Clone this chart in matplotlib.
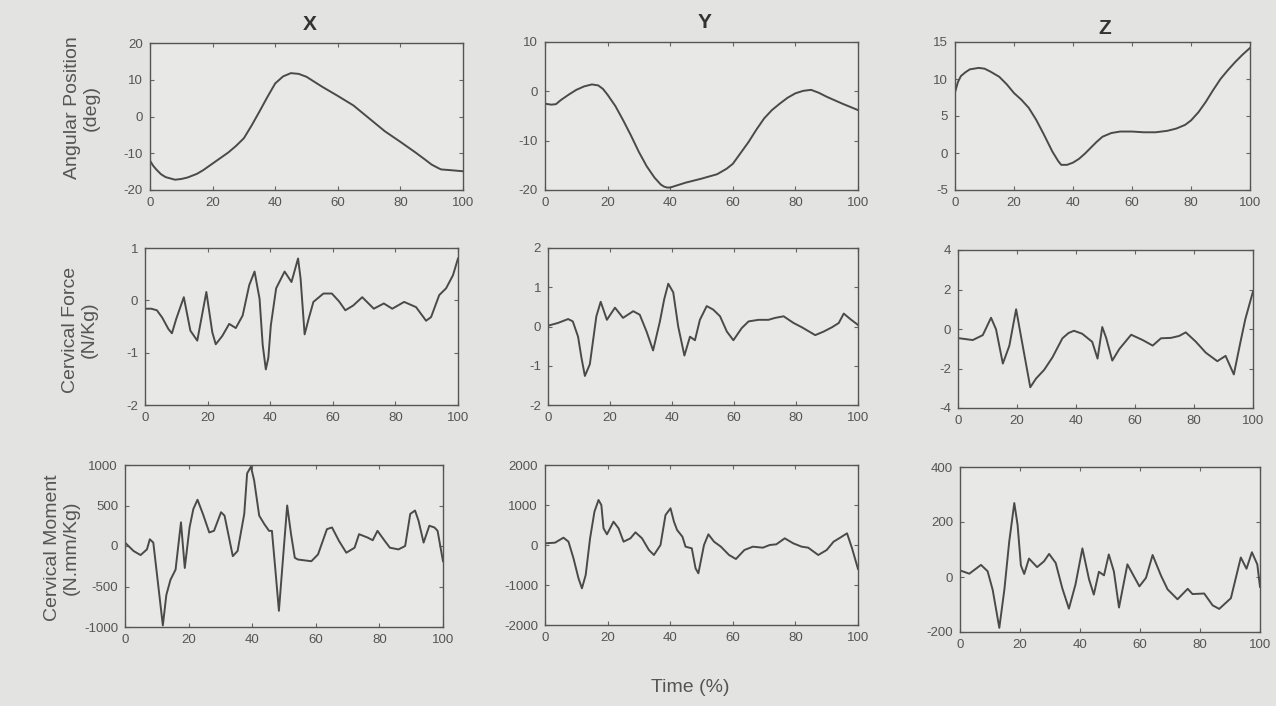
import matplotlib
matplotlib.use("Agg")
import matplotlib.pyplot as plt

plt.rcParams['font.family'] = ['Liberation Sans', 'DejaVu Sans']
plt.rcParams['axes.unicode_minus'] = False

# ---- angular position (deg) ----
ang_x_t = [0, 1, 2, 3.5, 5, 8, 10, 12, 15, 17, 20, 22.5, 25, 27.5, 30, 32.5, 35, 37.5, 40, 42.5, 45,
           47.5, 50, 55, 60, 65, 70, 75, 80, 85, 88, 90, 92, 93, 96, 100]
ang_x = [-12, -13.4, -14.4, -15.7, -16.5, -17.2, -17.0, -16.6, -15.6, -14.6, -12.8, -11.3, -9.8, -8.0,
         -5.9, -2.4, 1.4, 5.3, 9.0, 10.9, 11.8, 11.6, 10.8, 8.1, 5.6, 3.0, -0.5, -4, -6.9, -9.9, -11.8,
         -13.1, -14.0, -14.4, -14.6, -14.9]

ang_y_t = [0, 2, 3.5, 5, 7.5, 10, 12.5, 15, 17, 18.5, 20, 22.5, 25, 27.5, 30, 32.5, 35, 37, 38, 39, 40,
           42.5, 45, 50, 55, 58, 60, 62.5, 65, 67.5, 70, 72.5, 75, 77.5, 80, 82.5, 85, 87.5, 90, 95, 100]
ang_y = [-2.5, -2.7, -2.6, -1.8, -0.7, 0.3, 1.0, 1.4, 1.2, 0.5, -0.7, -3.0, -5.9, -9.0, -12.3, -15.2,
         -17.5, -18.9, -19.3, -19.5, -19.5, -19.0, -18.5, -17.7, -16.8, -15.7, -14.7, -12.5, -10.3,
         -7.8, -5.5, -3.8, -2.5, -1.3, -0.4, 0.1, 0.3, -0.3, -1.1, -2.5, -3.8]

ang_z_t = [0, 1, 2, 3.5, 5, 8, 10, 12, 15, 17.5, 20, 22.5, 25, 27.5, 30, 33, 35, 36, 38, 40, 42, 44, 46,
           48, 50, 53, 56, 60, 64, 68, 72, 75, 78, 80, 82.5, 85, 87.5, 90, 92.5, 95, 97.5, 100]
ang_z = [8.2, 9.6, 10.4, 10.9, 11.3, 11.5, 11.4, 11.0, 10.3, 9.3, 8.1, 7.2, 6.1, 4.5, 2.6, 0.2, -1.1,
         -1.6, -1.6, -1.3, -0.8, -0.1, 0.7, 1.5, 2.2, 2.7, 2.9, 2.9, 2.8, 2.8, 3.0, 3.3, 3.8, 4.4, 5.5,
         6.9, 8.5, 10.0, 11.2, 12.3, 13.3, 14.2]

# ---- cervical force (N/Kg) ----
frc_x_t = [0, 2, 3.8, 5.5, 7.5, 8.6, 10, 12.4, 14.5, 16.7, 19.6, 21.5, 22.6, 24.7, 26.9, 29, 31.2,
           33.3, 35, 36.6, 37.6, 38.6, 39.4, 40.2, 41.9, 44.6, 46.8, 48.9, 49.7, 51, 52.3, 53.8, 57,
           59.7, 62, 64, 66.5, 69.4, 73.1, 76.3, 79, 82.8, 86.6, 89.8, 91.4, 94, 96.2, 98.4, 100]
frc_x = [-0.16, -0.16, -0.19, -0.33, -0.55, -0.63, -0.35, 0.06, -0.58, -0.77, 0.16, -0.61, -0.84,
         -0.68, -0.45, -0.53, -0.29, 0.29, 0.55, 0.03, -0.85, -1.32, -1.1, -0.48, 0.23, 0.55, 0.35,
         0.8, 0.42, -0.65, -0.35, -0.03, 0.13, 0.13, -0.02, -0.19, -0.1, 0.06, -0.16, -0.06, -0.16,
         -0.03, -0.13, -0.39, -0.32, 0.1, 0.23, 0.48, 0.8]

frc_y_t = [0, 3.2, 6.5, 8, 9.7, 10.8, 11.9, 13.5, 15.6, 17, 19, 21.6, 24.2, 27.5, 29.6, 31.8, 33.9,
           36.1, 37.5, 38.8, 40.4, 42, 44, 45.8, 47.4, 49, 51.2, 53.3, 55.5, 57.7, 59.8, 62.5, 64.7,
           67.9, 71.1, 73.3, 76, 79.2, 81.9, 86.2, 88.9, 91.6, 93.8, 95.4, 97.5, 100]
frc_y = [0.02, 0.09, 0.19, 0.13, -0.26, -0.8, -1.26, -0.96, 0.26, 0.63, 0.17, 0.48, 0.22, 0.39, 0.3,
         -0.13, -0.61, 0.13, 0.7, 1.09, 0.87, 0.0, -0.74, -0.26, -0.35, 0.17, 0.52, 0.43, 0.26, -0.13,
         -0.35, -0.04, 0.13, 0.17, 0.17, 0.22, 0.26, 0.09, -0.02, -0.22, -0.13, -0.02, 0.09, 0.33,
         0.19, 0.04]

frc_z_t = [0, 5, 8.4, 11.2, 12.9, 15.2, 17.4, 19.7, 21.9, 24.5, 26.5, 29.2, 32, 35.4, 37.5, 39.3, 42.1,
           45.5, 47.3, 48.9, 50.2, 52.3, 54.7, 58.7, 62.6, 66, 68.8, 72.2, 75, 77.2, 80.6, 84, 87.9,
           90.7, 93.5, 95.8, 97.4, 100]
frc_z = [-0.46, -0.56, -0.31, 0.57, -0.02, -1.75, -0.85, 1.0, -0.82, -2.95, -2.5, -2.07, -1.44,
         -0.47, -0.2, -0.09, -0.24, -0.65, -1.5, 0.1, -0.44, -1.6, -1.01, -0.29, -0.56, -0.84, -0.47,
         -0.45, -0.35, -0.17, -0.64, -1.2, -1.63, -1.36, -2.3, -0.62, 0.5, 1.9]

# ---- cervical moment (N.mm/Kg) ----
mom_x_t = [0, 2.7, 4.9, 6.9, 7.8, 8.9, 10.2, 11.9, 13, 14.3, 15.9, 17.6, 18.8, 20.3, 21.5, 22.8, 24.5,
           26.5, 28, 30.2, 31.3, 33.9, 35.4, 37.5, 38.4, 39.6, 40.6, 42.2, 43.8, 45.3, 46.2, 47.3, 48.4,
           49.7, 51, 52.2, 53.4, 54.4, 58.6, 60.7, 63.5, 65.1, 67.3, 69.6, 72.2, 73.6, 76.3, 77.9,
           79.4, 81.7, 83.3, 86, 88.1, 89.7, 91.2, 92.3, 93.9, 95.7, 97.3, 98.3, 100]
mom_x = [42, -62, -112, -42, 83, 42, -400, -980, -604, -417, -292, 292, -271, 229, 458, 571, 396, 167,
         188, 417, 375, -125, -62, 396, 896, 979, 812, 375, 271, 187, 187, -300, -800, -146, 500, 150,
         -146, -167, -188, -104, 208, 229, 62, -83, -21, 146, 104, 71, 187, 62, -21, -42, 0, 396, 438,
         313, 42, 250, 229, 187, -188]

mom_y_t = [0, 3.2, 5.9, 7.5, 9.1, 10.7, 11.8, 13, 14.4, 15.8, 17.1, 18, 18.7, 19.8, 21.9, 23.5, 25.1,
           27.3, 28.9, 31, 33.2, 34.8, 36.9, 38.5, 40.1, 41.2, 42.2, 43.9, 44.9, 46.9, 48.1, 49, 50.8,
           52.2, 54, 56.2, 58.8, 61, 63.7, 66.4, 69.6, 71.8, 73.9, 76.6, 79.3, 82, 84.1, 87.3, 90,
           92.2, 94.3, 96.5, 98.1, 100]
mom_y = [42, 58, 183, 83, -333, -833, -1083, -750, 167, 833, 1125, 1000, 417, 267, 583, 417, 83, 167,
         317, 167, -125, -250, 0, 750, 917, 583, 375, 208, -42, -83, -583, -708, 0, 267, 83, -42, -250,
         -350, -125, -42, -67, 0, 17, 167, 42, -42, -67, -250, -125, 83, 183, 292, -83, -600]

mom_z_t = [0, 3.1, 7, 9.2, 10.9, 13.1, 14.8, 16.4, 18.1, 19.2, 20.3, 21.4, 23, 25.7, 28, 29.7, 31.9,
           34.1, 36.3, 38.5, 40.8, 43, 44.6, 46.3, 48, 49.6, 51.3, 53, 55.8, 57.4, 59.8, 62, 64.2, 67,
           69.2, 72.5, 75.9, 77.5, 81.4, 84.2, 86.4, 90.3, 93.6, 95.5, 97.3, 99.1, 100]
mom_z = [24, 12, 44, 21, -47, -185, -45, 128, 269, 189, 42, 11, 67, 36, 57, 84, 51, -41, -115, -27,
         104, -8, -64, 19, 6, 82, 20, -111, 46, 14, -34, -3, 80, 5, -45, -81, -43, -62, -60, -103, -116,
         -77, 71, 30, 90, 46, -36]

col_titles = ["X", "Y", "Z"]
row_labels = ["Angular Position\n(deg)", "Cervical Force\n(N/Kg)", "Cervical Moment\n(N.mm/Kg)"]
x_ticks = [0, 20, 40, 60, 80, 100]
y_ticks = [
    [[-20, -10, 0, 10, 20], [-20, -10, 0, 10], [-5, 0, 5, 10, 15]],
    [[-2, -1, 0, 1], [-2, -1, 0, 1, 2], [-4, -2, 0, 2, 4]],
    [[-1000, -500, 0, 500, 1000], [-2000, -1000, 0, 1000, 2000], [-200, 0, 200, 400]],
]
series = [
    [(ang_x_t, ang_x), (ang_y_t, ang_y), (ang_z_t, ang_z)],
    [(frc_x_t, frc_x), (frc_y_t, frc_y), (frc_z_t, frc_z)],
    [(mom_x_t, mom_x), (mom_y_t, mom_y), (mom_z_t, mom_z)],
]

# panel boxes in pixels: left, top, right, bottom
boxes = [
    [(150, 43, 463, 190), (545, 42, 858, 190), (955, 42, 1250, 190)],
    [(145, 248, 458, 405), (548, 248, 858, 405), (958, 250, 1253, 408)],
    [(125, 465, 443, 627), (545, 465, 858, 625), (960, 467, 1260, 632)],
]

W, H = 1276, 706
bg = "#e3e3e1"
ink = "#4a4a4a"

fig = plt.figure(figsize=(W / 100, H / 100), dpi=100, facecolor=bg)

for r in range(3):
    for c in range(3):
        l, t, rr, b = boxes[r][c]
        ax = fig.add_axes([l / W, 1 - b / H, (rr - l) / W, (b - t) / H])
        ax.set_facecolor("#e8e8e6")
        t_vals, y_vals = series[r][c]
        ax.plot(t_vals, y_vals, color=ink, lw=1.4, solid_joinstyle="round")
        ax.set_xlim(0, 100)
        yt = y_ticks[r][c]
        ax.set_ylim(yt[0], yt[-1])
        ax.set_yticks(yt)
        ax.set_xticks(x_ticks)
        ax.tick_params(direction="in", length=3, width=0.8, colors="#666666",
                       labelsize=9.5, labelcolor="#555555", top=True, right=True, pad=5)
        for sp in ax.spines.values():
            sp.set_color("#555555")
            sp.set_linewidth(1.0)

title_pos = [(310, 25), (705, 22), (1105, 28)]
for txt, (x, y) in zip(col_titles, title_pos):
    fig.text(x / W, 1 - y / H, txt, ha="center", va="center", fontsize=15,
             fontweight="bold", color="#333333")

label_pos = [(82, 108), (80, 330), (62, 548)]
for txt, (x, y) in zip(row_labels, label_pos):
    fig.text(x / W, 1 - y / H, txt, ha="center", va="center", rotation=90,
             fontsize=14, color="#555555", linespacing=1.1)

fig.text(690 / W, 1 - 688 / H, "Time (%)", ha="center", va="center", fontsize=14, color="#555555")

fig.savefig("out.png", dpi=100, facecolor=bg)
